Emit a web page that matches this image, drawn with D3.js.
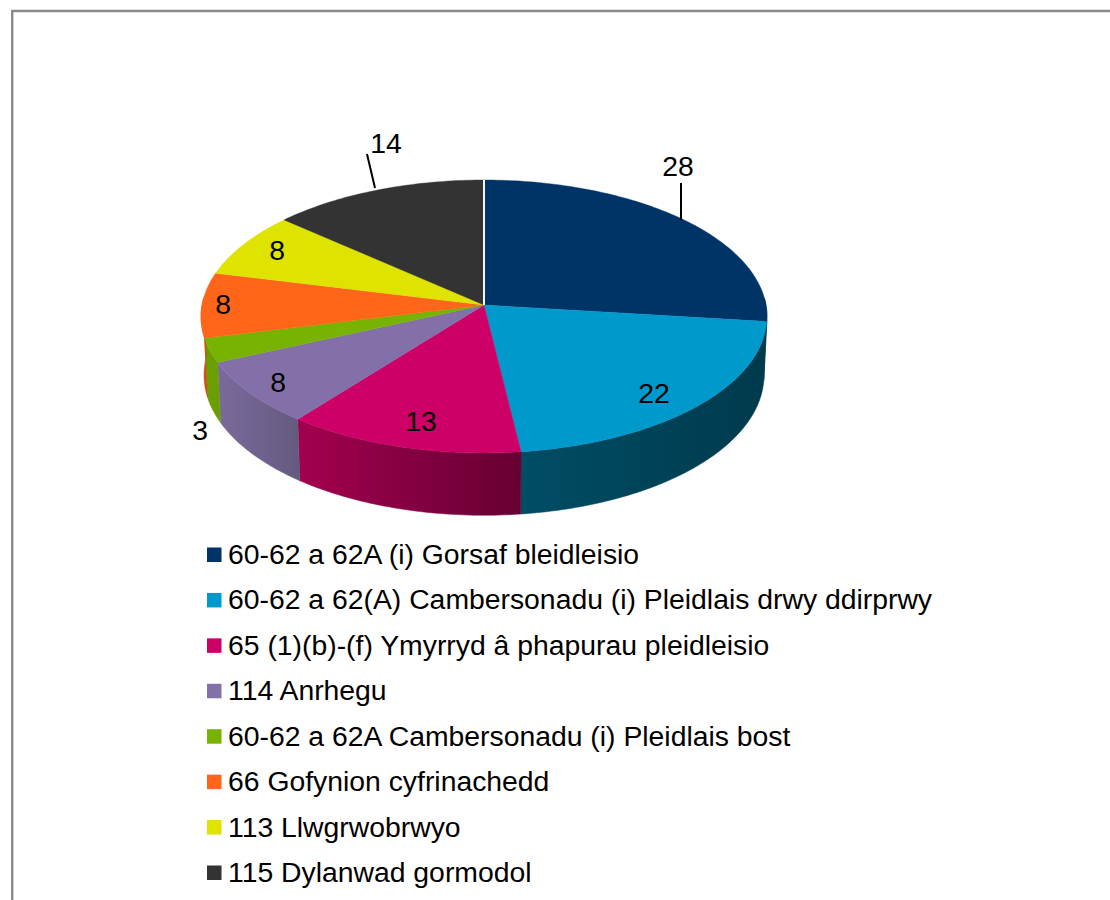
<!DOCTYPE html>
<html><head><meta charset="utf-8">
<script src="https://cdn.jsdelivr.net/npm/d3@7"></script>
<style>html,body{margin:0;padding:0;background:#fff;overflow:hidden}svg{display:block}text{font-family:"Liberation Sans",Arial,sans-serif;fill:#000}</style>
</head><body><svg id="c" width="1110" height="900"></svg>
<script>
const categories=["60-62 a 62A (i) Gorsaf bleidleisio","60-62 a 62(A) Cambersonadu (i) Pleidlais drwy ddirprwy","65 (1)(b)-(f) Ymyrryd â phapurau pleidleisio","114 Anrhegu","60-62 a 62A Cambersonadu (i) Pleidlais bost","66 Gofynion cyfrinachedd","113 Llwgrwobrwyo","115 Dylanwad gormodol"];
const values=[28,22,13,8,3,8,8,14];
const colors=["#003366","#0099cc","#cc0066","#8470a8","#77b300","#ff6619","#dfe300","#333333"];
const sideStart=["#002a52","#004d66","#a3004f","#7a6a9c","#6b9e00","#cc4f10","#b0b300","#222222"];
const sideEnd=["#002a52","#003a4c","#660032","#655a80","#6b9e00","#cc4f10","#b0b300","#222222"];

const svg=d3.select("#c"),defs=svg.append("defs");
svg.append("path").attr("d","M12.2,900V11H1110").attr("fill","none").attr("stroke","#8a8a8a").attr("stroke-width",2.4);

const k=0.084;
function proj(a,plane){const u=Math.sin(a),v=Math.cos(a),d=1+k*v;
  return [plane.cx+plane.R*u/d,plane.cy-plane.S*v/d];}
const topP={cx:484,cy:305,R:282,S:135.5}, botP={cx:484,cy:363.5,R:279,S:139};
const arcs=d3.pie().sort(null).value(d=>d)(values);
const line=d3.line();
const step=Math.PI/180;
function samples(a0,a1){const n=Math.max(2,Math.ceil((a1-a0)/step));return d3.range(n+1).map(i=>a0+(a1-a0)*i/n);}

arcs.forEach((s,i)=>{
  const a0=Math.max(s.startAngle,Math.PI/2-.05),a1=Math.min(s.endAngle,3*Math.PI/2+.05);
  if(a1<=a0)return;
  const as=samples(a0,a1),t=as.map(a=>proj(a,topP)),b=as.map(a=>proj(a,botP)).reverse();
  const xs=t.map(p=>p[0]),id="g"+i;
  const lg=defs.append("linearGradient").attr("id",id).attr("gradientUnits","userSpaceOnUse")
    .attr("x1",d3.min(xs)).attr("x2",d3.max(xs)).attr("y1",0).attr("y2",0);
  lg.append("stop").attr("offset",0).attr("stop-color",sideStart[i]);
  lg.append("stop").attr("offset",1).attr("stop-color",sideEnd[i]);
  svg.append("path").attr("d",line(t.concat(b))+"Z").attr("fill",`url(#${id})`).attr("stroke",`url(#${id})`).attr("stroke-width",.5);
});
arcs.forEach((s,i)=>{
  const pts=[[topP.cx,topP.cy]].concat(samples(s.startAngle,s.endAngle).map(a=>proj(a,topP)));
  svg.append("path").attr("d",line(pts)+"Z").attr("fill",colors[i]).attr("stroke",colors[i]).attr("stroke-width",.4);
});
svg.append("path").attr("d",line([[topP.cx,topP.cy],proj(0,topP)])).attr("stroke","#f4f4f4").attr("stroke-width",2);

const stretch=1.05, fontPx=27;
function put(x,y,txt,anchor){
  svg.append("text").attr("transform",`translate(${x},${y}) scale(${stretch},1)`).attr("dy",".35em").attr("text-anchor",anchor).attr("font-size",fontPx).text(txt);
}
const labelPos=[[678,167],[654,394],[421,422],[278,383],[200,431],[223,305],[277,251],[386,144]];
values.forEach((v,i)=>put(labelPos[i][0],labelPos[i][1],v,"middle"));
const leaders=[[[681,220],[681,183]],[[375,188],[367,154]]];
leaders.forEach(l=>svg.append("path").attr("d",line(l)).attr("stroke","#000").attr("stroke-width",2).attr("fill","none"));

const legendY=d3.scalePoint().domain(categories).range([554.5,872.5]);
categories.forEach((c,i)=>{
  const y=legendY(c);
  svg.append("rect").attr("x",207).attr("y",y-7).attr("width",14.5).attr("height",14.5).attr("fill",colors[i]);
  put(228,y,c,"start");
});
</script></body></html>
